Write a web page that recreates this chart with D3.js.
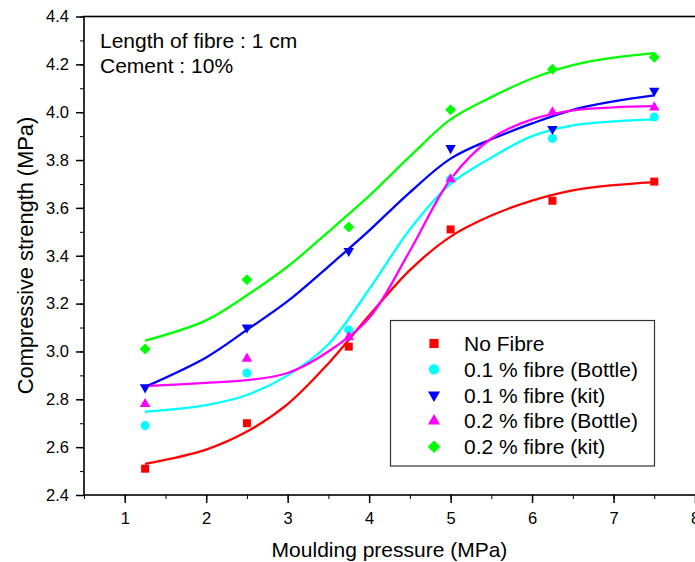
<!DOCTYPE html>
<html>
<head>
<meta charset="utf-8">
<script src="https://cdn.jsdelivr.net/npm/d3@7"></script>
<style>
  body { margin: 0; background: #fff; }
  text { font-family: "Liberation Sans", Arial, sans-serif; fill: #000; }
</style>
</head>
<body>
<script>
// Measured points (x = moulding pressure, MPa)
var pressure = [1.25, 2.5, 3.75, 5, 6.25, 7.5];
var seriesNames = ["No Fibre", "0.1 % fibre (Bottle)", "0.1 % fibre (kit)", "0.2 % fibre (Bottle)", "0.2 % fibre (kit)"];
var noFibre = [2.51, 2.70, 3.02, 3.51, 3.63, 3.71];
var bottle01 = [2.69, 2.91, 3.09, 3.72, 3.89, 3.98];
var kit01 = [2.85, 3.10, 3.42, 3.85, 3.93, 4.09];
var bottle02 = [2.78, 2.97, 3.06, 3.72, 4.00, 4.02];
var kit02 = [3.01, 3.30, 3.52, 4.01, 4.18, 4.23];

// Fitted curves
var fitX = [1.25, 2, 2.5, 3, 3.5, 4, 4.5, 5, 5.5, 6, 6.5, 7, 7.5];
var fitNoFibre = [2.53, 2.59, 2.665, 2.78, 2.95, 3.15, 3.34, 3.48, 3.568, 3.63, 3.673, 3.695, 3.708];
var fitBottle01 = [2.748, 2.776, 2.818, 2.90, 3.03, 3.26, 3.51, 3.70, 3.81, 3.90, 3.945, 3.962, 3.97];
var fitKit01 = [2.852, 2.975, 3.09, 3.21, 3.355, 3.505, 3.665, 3.806, 3.887, 3.953, 4.01, 4.045, 4.07];
var fitBottle02 = [2.855, 2.869, 2.88, 2.91, 3.00, 3.14, 3.42, 3.72, 3.89, 3.97, 4.008, 4.02, 4.025];
var fitKit02 = [3.045, 3.13, 3.235, 3.355, 3.50, 3.65, 3.815, 3.97, 4.063, 4.141, 4.197, 4.228, 4.247];

var xTicks = [1, 2, 3, 4, 5, 6, 7, 8];
var yTicks = [2.4, 2.6, 2.8, 3.0, 3.2, 3.4, 3.6, 3.8, 4.0, 4.2, 4.4];

function draw() {
  var svgWidth = 695;
  var svgHeight = 562;
  var margin = {top: 16.5, left: 84};
  var plotRight = 696;
  var plotBottom = 495;

  var colors = ["#ff0000", "#00ffff", "#0000ff", "#ff00ff", "#00ff00"];
  var shapes = ["square", "circle", "down", "up", "diamond"];
  var values = [noFibre, bottle01, kit01, bottle02, kit02];
  var fits = [fitNoFibre, fitBottle01, fitKit01, fitBottle02, fitKit02];

  var svg = d3.select("body").append("svg")
    .attr("width", svgWidth)
    .attr("height", svgHeight);

  var x = d3.scaleLinear().domain([0.5, 8]).range([margin.left, 695]);
  var y = d3.scaleLinear().domain([2.4, 4.4]).range([plotBottom, margin.top]);

  // marker path by shape name
  function marker(shape, s) {
    if (shape === "square") return d3.symbol(d3.symbolSquare, s * s)();
    if (shape === "circle") return d3.symbol(d3.symbolCircle, Math.PI * s * s / 4)();
    if (shape === "diamond") return d3.symbol(d3.symbolSquare, s * s / 2)();
    return d3.symbol(d3.symbolTriangle, s * s * Math.sqrt(3) / 4)();
  }
  function rot(shape) {
    if (shape === "down") return " rotate(180)";
    if (shape === "diamond") return " rotate(45)";
    return "";
  }
  var markerSize = {square: 8, circle: 9, down: 10.5, up: 10.5, diamond: 11};

  // minor ticks
  var xMinor = d3.range(0.5, 8.01, 0.5);
  var yMinor = d3.range(2.4, 4.41, 0.1);

  svg.append("g")
    .attr("transform", "translate(0," + plotBottom + ")")
    .call(d3.axisBottom(x).tickValues(xMinor).tickSize(4).tickFormat(""))
    .call(function(g) { g.select(".domain").remove(); });
  svg.append("g")
    .attr("transform", "translate(" + margin.left + ",0)")
    .call(d3.axisLeft(y).tickValues(yMinor).tickSize(4).tickFormat(""))
    .call(function(g) { g.select(".domain").remove(); });

  // major axes
  var xAxis = svg.append("g")
    .attr("transform", "translate(0," + plotBottom + ")")
    .call(d3.axisBottom(x).tickValues(xTicks).tickSize(8).tickPadding(9).tickFormat(d3.format("d")));
  var yAxis = svg.append("g")
    .attr("transform", "translate(" + margin.left + ",0)")
    .call(d3.axisLeft(y).tickValues(yTicks).tickSize(8).tickPadding(7).tickFormat(d3.format(".1f")));

  [xAxis, yAxis].forEach(function(g) {
    g.selectAll("text").style("font-size", "16.5px").attr("fill", "#000");
    g.selectAll("line").attr("stroke", "#000").attr("stroke-width", 1.5);
    g.select(".domain").remove();
  });

  // frame
  svg.append("rect")
    .attr("x", margin.left)
    .attr("y", margin.top)
    .attr("width", plotRight - margin.left)
    .attr("height", plotBottom - margin.top)
    .attr("fill", "none")
    .attr("stroke", "#000")
    .attr("stroke-width", 1.6);

  // fitted curves and points
  var line = d3.line()
    .x(function(d) { return x(d[0]); })
    .y(function(d) { return y(d[1]); })
    .curve(d3.curveCatmullRom.alpha(0.5));

  values.forEach(function(vals, i) {
    svg.append("path")
      .datum(fitX.map(function(v, j) { return [v, fits[i][j]]; }))
      .attr("d", line)
      .attr("fill", "none")
      .attr("stroke", colors[i])
      .attr("stroke-width", 2.3);
  });

  values.forEach(function(vals, i) {
    svg.append("g").selectAll("path")
      .data(vals)
      .enter().append("path")
      .attr("d", marker(shapes[i], markerSize[shapes[i]]))
      .attr("transform", function(d, j) {
        return "translate(" + x(pressure[j]) + "," + y(d) + ")" + rot(shapes[i]);
      })
      .attr("fill", colors[i]);
  });

  // annotation text
  svg.append("text").attr("x", 100).attr("y", 47.5).style("font-size", "21px").text("Length of fibre : 1 cm");
  svg.append("text").attr("x", 100).attr("y", 73).style("font-size", "21px").text("Cement : 10%");

  // legend
  var legend = svg.append("g");
  legend.append("rect")
    .attr("x", 390.5).attr("y", 320.5)
    .attr("width", 264).attr("height", 145.5)
    .attr("fill", "#fff")
    .attr("stroke", "#333")
    .attr("stroke-width", 1.2);
  seriesNames.forEach(function(name, i) {
    var cy = 343.5 + i * 25.8;
    legend.append("path")
      .attr("d", marker(shapes[i], markerSize[shapes[i]] * 1.15))
      .attr("transform", "translate(434," + cy + ")" + rot(shapes[i]))
      .attr("fill", colors[i]);
    legend.append("text")
      .attr("x", 464)
      .attr("y", cy + 7.5)
      .style("font-size", "21px")
      .text(name);
  });

  // axis titles
  svg.append("text")
    .attr("x", 389.5)
    .attr("y", 557)
    .attr("text-anchor", "middle")
    .style("font-size", "21px")
    .text("Moulding pressure (MPa)");
  svg.append("text")
    .attr("transform", "translate(33,255.5) rotate(-90)")
    .attr("text-anchor", "middle")
    .style("font-size", "21.8px")
    .text("Compressive strength (MPa)");
}

window.onload = draw;
</script>
</body>
</html>
